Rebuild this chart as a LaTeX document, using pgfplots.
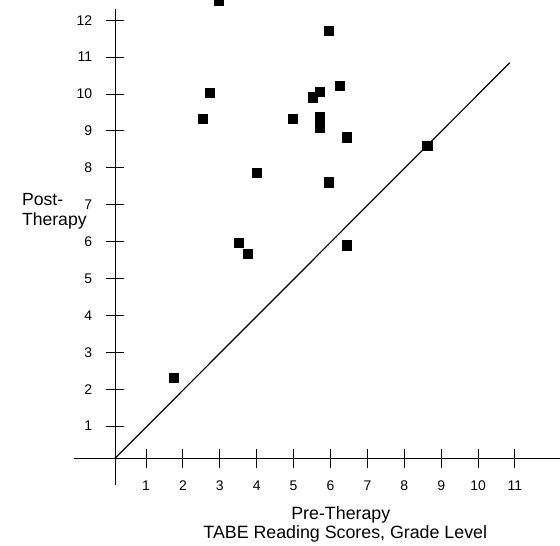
\documentclass[border=0pt]{standalone}
\usepackage{pgfplots}
\usepackage{pgfplotstable}
\pgfplotsset{compat=1.18}
\usepackage{fontspec}
\setmainfont{Liberation Sans}
\pgfplotstableread{
x y
2.97 12.53
2.73 10.04
2.54 9.32
4.00 7.86
3.51 5.96
3.76 5.66
5.96 11.72
6.25 10.23
5.71 10.05
5.52 9.91
4.98 9.32
5.71 9.37
5.71 9.08
6.44 8.83
8.63 8.60
5.96 7.61
6.44 5.90
1.75 2.30
}\scores
\pgfplotstableread{
x y
0.16 0.13
10.86 10.85
}\diag
\begin{document}
\begin{tikzpicture}
\begin{axis}[
  x=18.45pt, y=18.45pt,
  axis lines=middle,
  axis line style={-, line width=0.5pt, black},
  xmin=-1.11, xmax=12.06, ymin=-0.72, ymax=12.18,
  enlargelimits=false,
  clip=false,
  tick align=center,
  major tick length=9.3pt,
  tick style={line width=0.5pt, black},
  xtick={0.84,1.84,2.84,3.84,4.84,5.84,6.84,7.84,8.84,9.84,10.84},
  xticklabels={1,2,3,4,5,6,7,8,9,10,11},
  ytick={0.87,1.87,2.87,3.87,4.87,5.87,6.87,7.87,8.87,9.87,10.87,11.87},
  yticklabels={1,2,3,4,5,6,7,8,9,10,11,12},
  xticklabel style={anchor=base, inner sep=0pt, yshift=-11.6pt, font=\fontsize{7}{8}\selectfont},
  yticklabel style={anchor=east, inner sep=0pt, xshift=-6.6pt, font=\fontsize{7}{8}\selectfont},
]
\addplot[black, line width=0.6pt] table[x expr=\thisrow{x}-0.16, y expr=\thisrow{y}-0.13] {\diag};
\addplot[only marks, mark=square*, mark size=2.33pt, mark options={fill=black, draw=black}]
  table[x expr=\thisrow{x}-0.16, y expr=\thisrow{y}-0.13] {\scores};
\node[anchor=base west, inner sep=0pt, font=\fontsize{8.8}{10}\selectfont] at (axis cs:-2.53,6.845) {Post-};
\node[anchor=base west, inner sep=0pt, font=\fontsize{8.8}{10}\selectfont] at (axis cs:-2.53,6.30) {Therapy};
\node[anchor=base, inner sep=0pt, font=\fontsize{8.9}{10}\selectfont] at (axis cs:6.12,-1.672) {Pre-Therapy};
\node[anchor=base, inner sep=0pt, font=\fontsize{8.9}{10}\selectfont] at (axis cs:6.24,-2.168) {TABE Reading Scores, Grade Level};
\coordinate (bl) at (axis cs:-3.117,-2.377);
\coordinate (tr) at (axis cs:12.06,12.42);
\end{axis}
\pgfresetboundingbox
\path[use as bounding box] (bl) rectangle (tr);
\end{tikzpicture}
\end{document}
